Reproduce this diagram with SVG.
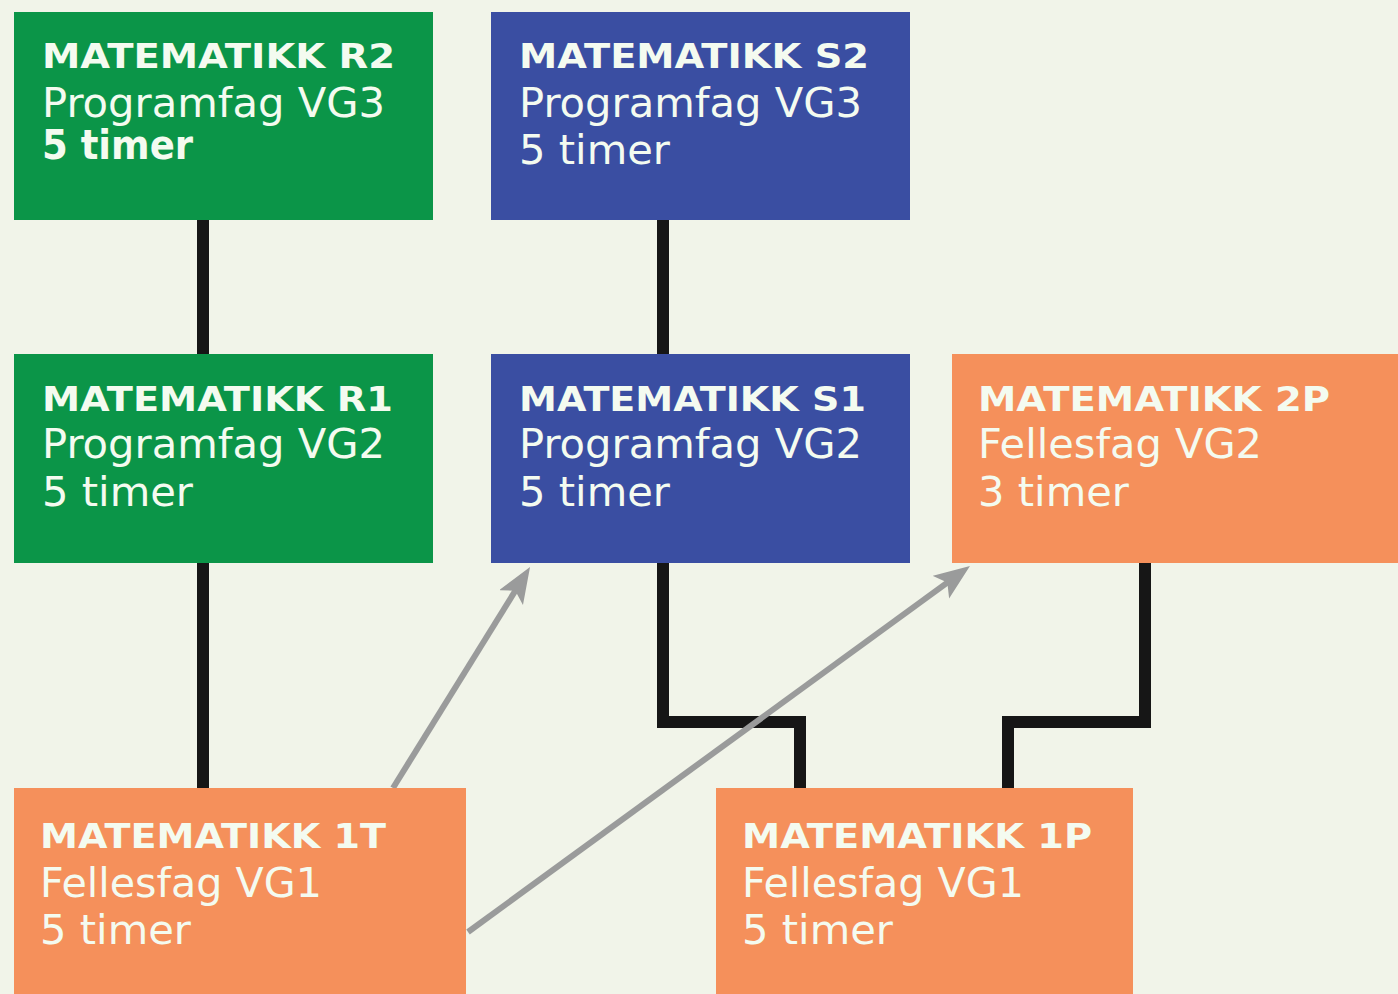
<svg xmlns="http://www.w3.org/2000/svg" width="1398" height="994" viewBox="0 0 1398 994">
<style>
.green{fill:#0b9548}
.blue{fill:#3a4ea2}
.orange{fill:#f5905b}
.t{font-family:"DejaVu Sans","Verdana",sans-serif;fill:#f4fbf0}
.title{font-size:34px;font-weight:bold}
.line{font-size:40px}
.bold{font-weight:bold}
.conn{stroke:#161616;stroke-width:12;fill:none;stroke-linejoin:miter}
.arr{stroke:#9a9b9b;stroke-width:6;fill:none}
</style>
<defs>
<marker id="ah" markerUnits="userSpaceOnUse" markerWidth="40" markerHeight="30" refX="16" refY="14" orient="auto" viewBox="0 0 40 30">
<path d="M0,0 L36,14 L0,28 L8,14 z" fill="#9a9b9b"/>
</marker>
</defs>
<rect width="1398" height="994" fill="#f1f4e9"/>
<g id="connectors">
<path class="conn" d="M203,220 V354"/>
<path class="conn" d="M663,220 V354"/>
<path class="conn" d="M203,563 V788"/>
<path class="conn" d="M663,563 V722 H800 V788"/>
<path class="conn" d="M1145,563 V722 H1008 V788"/>
<line class="arr" x1="393" y1="788" x2="519.5" y2="584" marker-end="url(#ah)"/>
<line class="arr" x1="468" y1="932" x2="953.8" y2="577.8" marker-end="url(#ah)"/>
</g>
<g id="r2">
<rect class="green" x="14" y="12" width="419" height="208"/>
<text class="t title" x="42" y="68" textLength="353" lengthAdjust="spacingAndGlyphs">MATEMATIKK R2</text>
<text class="t line" x="42" y="117" textLength="343" lengthAdjust="spacingAndGlyphs">Programfag VG3</text>
<text class="t line bold" x="42" y="159" font-size="36" textLength="151" lengthAdjust="spacingAndGlyphs">5 timer</text>
</g>
<g id="s2">
<rect class="blue" x="491" y="12" width="419" height="208"/>
<text class="t title" x="519" y="68" textLength="350" lengthAdjust="spacingAndGlyphs">MATEMATIKK S2</text>
<text class="t line" x="519" y="117" textLength="343" lengthAdjust="spacingAndGlyphs">Programfag VG3</text>
<text class="t line" x="519" y="164" textLength="151" lengthAdjust="spacingAndGlyphs">5 timer</text>
</g>
<g id="r1">
<rect class="green" x="14" y="354" width="419" height="209"/>
<text class="t title" x="42" y="411" textLength="351" lengthAdjust="spacingAndGlyphs">MATEMATIKK R1</text>
<text class="t line" x="42" y="458" textLength="343" lengthAdjust="spacingAndGlyphs">Programfag VG2</text>
<text class="t line" x="42" y="506" textLength="151" lengthAdjust="spacingAndGlyphs">5 timer</text>
</g>
<g id="s1">
<rect class="blue" x="491" y="354" width="419" height="209"/>
<text class="t title" x="519" y="411" textLength="347" lengthAdjust="spacingAndGlyphs">MATEMATIKK S1</text>
<text class="t line" x="519" y="458" textLength="343" lengthAdjust="spacingAndGlyphs">Programfag VG2</text>
<text class="t line" x="519" y="506" textLength="151" lengthAdjust="spacingAndGlyphs">5 timer</text>
</g>
<g id="p2">
<rect class="orange" x="952" y="354" width="446" height="209"/>
<text class="t title" x="978" y="411" textLength="352" lengthAdjust="spacingAndGlyphs">MATEMATIKK 2P</text>
<text class="t line" x="978" y="458" textLength="284" lengthAdjust="spacingAndGlyphs">Fellesfag VG2</text>
<text class="t line" x="978" y="506" textLength="151" lengthAdjust="spacingAndGlyphs">3 timer</text>
</g>
<g id="t1">
<rect class="orange" x="14" y="788" width="452" height="206"/>
<text class="t title" x="40" y="848" textLength="346" lengthAdjust="spacingAndGlyphs">MATEMATIKK 1T</text>
<text class="t line" x="40" y="897" textLength="282" lengthAdjust="spacingAndGlyphs">Fellesfag VG1</text>
<text class="t line" x="40" y="944" textLength="151" lengthAdjust="spacingAndGlyphs">5 timer</text>
</g>
<g id="p1">
<rect class="orange" x="716" y="788" width="417" height="206"/>
<text class="t title" x="742" y="848" textLength="350" lengthAdjust="spacingAndGlyphs">MATEMATIKK 1P</text>
<text class="t line" x="742" y="897" textLength="282" lengthAdjust="spacingAndGlyphs">Fellesfag VG1</text>
<text class="t line" x="742" y="944" textLength="151" lengthAdjust="spacingAndGlyphs">5 timer</text>
</g>
</svg>
